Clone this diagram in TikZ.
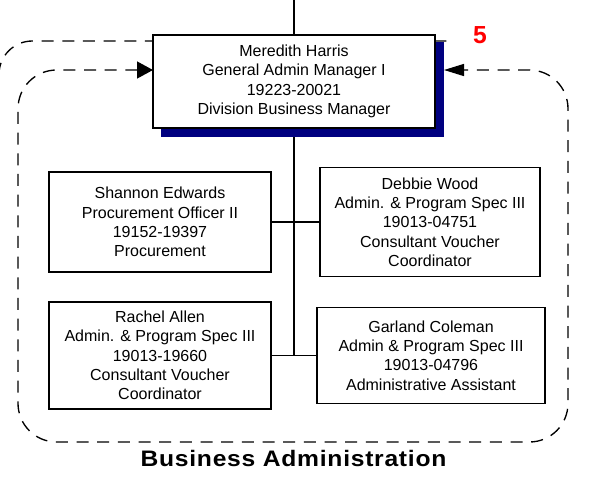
\documentclass[tikz,border=0pt]{standalone}
\usepackage{fontspec}
\setmainfont{Liberation Sans}
\newfontfamily\titlefont[LetterSpace=3]{Liberation Sans}
\usetikzlibrary{positioning,arrows.meta}
\definecolor{shadownavy}{rgb}{0.0, 0.0, 0.5}
\definecolor{groupred}{rgb}{1.0, 0.0, 0.0}
\tikzset{
  posbox/.style 2 args={draw, line width=1pt, fill=white, align=center, inner sep=0pt,
    minimum width=#1*0.75pt, minimum height=#2*0.75pt,
    font=\fontsize{12pt}{14.5pt}\selectfont},
  shadowbox/.style 2 args={fill=shadownavy, inner sep=0pt,
    minimum width=#1*0.75pt, minimum height=#2*0.75pt},
  groupline/.style={line width=1pt, dash pattern=on 9pt off 6.5pt},
  link/.style={line width=1pt},
  trunk/.style={line width=1.5pt}
}

\begin{document}
\begin{tikzpicture}[x=0.75pt, y=-0.75pt]
        % Picture frame
        \useasboundingbox (0,0) rectangle (589,480);

        % Outer group border
        \draw[groupline, rounded corners=25pt] (-1,240) -- (-1,41) -- (451,41);

        % Manager with shadow
        \node[shadowbox={283}{95}] (mgrshadow) at (302.5,89.5) {};
        \node[posbox={282}{93}] (mgr) at (294,81.5)
            {Meredith Harris\\General Admin Manager I\\19223-20021\\Division Business Manager};

        % Staff
        \node[posbox={222}{100}] (shannon) at (160,222)
            {Shannon Edwards\\Procurement Officer II\\19152-19397\\Procurement};
        \node[posbox={220}{109}] (debbie) at (430,222)
            {Debbie Wood\\Admin. \& Program Spec III\\19013-04751\\Consultant Voucher\\Coordinator};
        \node[posbox={222}{107}] (rachel) at (160,355.5)
            {Rachel Allen\\Admin. \& Program Spec III\\19013-19660\\Consultant Voucher\\Coordinator};
        \node[posbox={228}{96}] (garland) at (431,355.5)
            {Garland Coleman\\Admin \& Program Spec III\\19013-04796\\Administrative Assistant};

        % Connectors
        \coordinate (feed) at (294,0);
        \draw[link] (feed) -- (mgr.north);
        \draw[trunk] (mgr.south |- mgrshadow.south) -- (mgr.south |- rachel.east);
        \draw[link] (shannon.east) -- (debbie.west);
        \draw[link] (rachel.east) -- (garland.west);

        % Inner group loop
        \coordinate (loopL) at (153,70);
        \coordinate (loopR) at (444,70);
        \draw[groupline, rounded corners=29pt,
            {Triangle[length=12pt,width=12.75pt]}-{Triangle[length=15pt,width=9pt]}]
            (loopL) -- (18,70) -- (18,442) -- (568,442) -- (568,70) -- (loopR);

        % Group labels
        \node[text=groupred, font=\bfseries\fontsize{18.5pt}{18.5pt}\selectfont] (grpnum) at (480,35) {5};
        \node[anchor=base, font=\titlefont\bfseries\fontsize{16.8pt}{18pt}\selectfont] (grptitle)
            at (293.5,466) {\scalebox{1.1}[1]{Business Administration}};
    \end{tikzpicture}
\end{document}
